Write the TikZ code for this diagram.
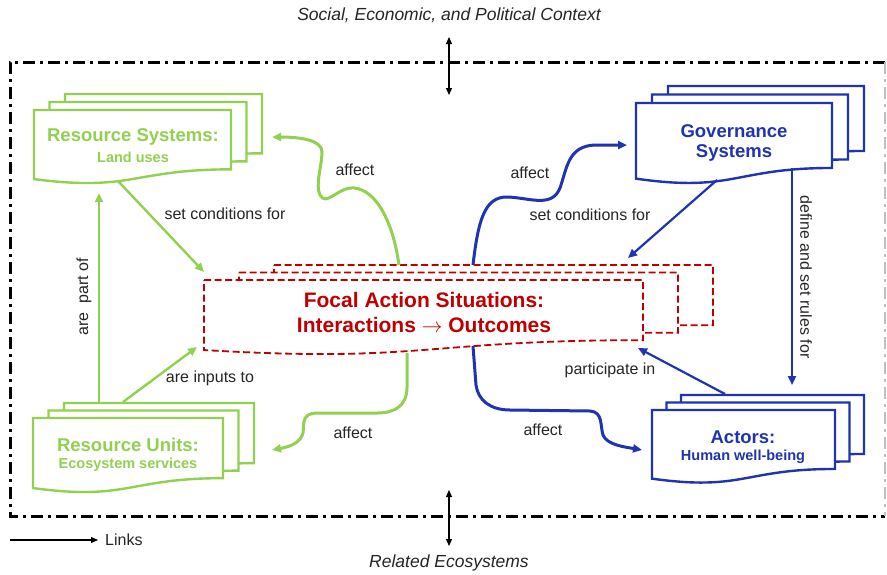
\documentclass[tikz,border=0pt]{standalone}
\usepackage{fontspec}
\setmainfont{Liberation Sans}
\usetikzlibrary{arrows.meta}
\definecolor{gr}{HTML}{92D050}
\definecolor{bl}{RGB}{32,52,178}
\definecolor{rd}{HTML}{C00000}
% doc shape: style, x, y, w, h
\newcommand\docshape[5]{%
  \draw[#1] (#2,#3) -- ({#2+#4},#3) -- ({#2+#4},{#3+0.802*#5})
    .. controls ({#2+0.5*#4},{#3+0.802*#5}) and ({#2+0.5*#4},{#3+1.107*#5})
    .. (#2,{#3+0.934*#5}) -- cycle;}
% stack: style, x, y, w, h, dx, dy
\newcommand\docstack[7]{%
  \docshape{#1}{#2+2*#6}{#3+2*#7}{#4}{#5}%
  \docshape{#1}{#2+#6}{#3+#7}{#4}{#5}%
  \docshape{#1}{#2}{#3}{#4}{#5}}
\begin{document}
\begin{tikzpicture}[x=1pt,y=-1pt,
  gbox/.style={draw=gr,line width=2.4pt,fill=white},
  bbox/.style={draw=bl,line width=2.4pt,fill=white},
  rbox/.style={draw=rd,line width=1.8pt,fill=white,dash pattern=on 7pt off 3.5pt},
  tip/.style={-{Triangle[length=9pt,width=8pt]}},
  garrow/.style={tip,draw=gr,line width=2.4pt},
  barrow/.style={tip,draw=bl,line width=2.2pt},
  gwave/.style={tip,draw=gr,line width=3pt},
  bwave/.style={tip,draw=bl,line width=3pt},
  lbl/.style={font=\fontsize{16}{18}\selectfont,text=black!85,inner sep=0pt},
  gtitle/.style={font=\fontsize{18.5}{20}\selectfont\bfseries,text=gr,inner sep=0pt},
  gsub/.style={font=\fontsize{14.5}{16}\selectfont\bfseries,text=gr,inner sep=0pt},
  btitle/.style={font=\fontsize{18.5}{20}\selectfont\bfseries,text=bl,inner sep=0pt},
  bsub/.style={font=\fontsize{14.5}{16}\selectfont\bfseries,text=bl,inner sep=0pt},
  rtitle/.style={font=\fontsize{21}{23}\selectfont\bfseries,text=rd,inner sep=0pt},
  ctx/.style={font=\fontsize{17.5}{19}\selectfont\itshape,text=black!85,inner sep=0pt},
  dbl/.style={{Triangle[length=7pt,width=6pt]}-{Triangle[length=7pt,width=6pt]},line width=1.2pt}
]
\useasboundingbox[fill=white] (0,0) rectangle (887,574);

% frame
\draw[line width=3pt,dash pattern=on 12pt off 5pt on 3pt off 5pt]
  (885,62) -- (10,62) -- (10,516) -- (885,516);
\draw[black!25,line width=1.5pt,dash pattern=on 12pt off 5pt on 3pt off 5pt] (885,62) -- (885,516);

% context
\node[ctx] (ctxT) at (449,15) {Social, Economic, and Political Context};
\node[ctx] (ctxB) at (449,563) {Related Ecosystems};
\coordinate (tA) at (449,37);
\coordinate (tB) at (449,95);
\coordinate (bA) at (449,490);
\coordinate (bB) at (449,546);
\draw[dbl] (tA) -- (tB);
\draw[dbl] (bA) -- (bB);

% legend
\coordinate (lgA) at (10,540);
\coordinate (lgB) at (98,540);
\draw[-{Triangle[length=7pt,width=6pt]},line width=1.2pt] (lgA) -- (lgB);
\node[lbl,anchor=west] (links) at (105,540) {Links};

% stacks
\docstack{gbox}{34}{110}{197}{74}{15.5}{-8}
\docstack{gbox}{33}{418}{190}{75}{15.5}{-7.5}
\docstack{bbox}{636}{103}{196}{81}{16}{-8.5}
\docstack{bbox}{652}{410}{183}{73.5}{14.5}{-7.5}
\docstack{rbox}{204}{280}{439}{75}{35}{-7.5}

% box texts
\node[gtitle] (rs) at (133,137) {Resource Systems:};
\node[gsub] (rs2) at (133,157) {Land uses};
\node[gtitle] (ru) at (128,445) {Resource Units:};
\node[gsub] (ru2) at (128,465) {Ecosystem services};
\node[btitle] (gs) at (734,131) {Governance};
\node[btitle] (gs2) at (734,153) {Systems};
\node[btitle] (ac) at (743,437) {Actors:};
\node[bsub] (ac2) at (743,457) {Human well-being};
\node[rtitle] (fas) at (424,300) {Focal Action Situations:};
\node[rtitle] (fas2) at (424,325) {Interactions {\normalfont$\rightarrow$} Outcomes};

% anchor coordinates
\coordinate (rsB) at (118,181);
\coordinate (rsR) at (272,137);
\coordinate (ruT1) at (99,402);
\coordinate (ruT2) at (123,402);
\coordinate (ruR) at (272,450);
\coordinate (rsBot) at (99,193);
\coordinate (fasTL) at (204,272);
\coordinate (fasL) at (197,347);
\coordinate (fasTg) at (399,265);
\coordinate (fasTb) at (473,265);
\coordinate (fasBg) at (407,353);
\coordinate (fasBb) at (473,346);
\coordinate (fasR) at (628,258);
\coordinate (fasBR) at (638,348);
\coordinate (gsL) at (627,145);
\coordinate (gsB) at (717,180);
\coordinate (gsB2) at (792,168);
\coordinate (acT) at (792,385);
\coordinate (acT2) at (725,394);
\coordinate (acL) at (642,450);

% green connectors
\draw[garrow] (rsB) -- (fasTL);
\node[lbl] (l1) at (225,214) {set conditions for};
\draw[garrow] (ruT1) -- (rsBot);
\node[lbl,rotate=90] (l2) at (84,297) {are~~part of};
\draw[garrow] (ruT2) -- (fasL);
\node[lbl] (l3) at (210,378) {are inputs to};
\draw[gwave] (fasTg) .. controls (392,215) and (372,186) .. (350,188)
  .. controls (336,190) and (326,206) .. (320,195)
  .. controls (315,185) and (322,165) .. (322,152)
  .. controls (322,140) and (300,137) .. (rsR);
\node[lbl] (l4) at (355,170) {affect};
\draw[gwave] (fasBg) -- (407,388) .. controls (407,405) and (395,413) .. (378,413)
  -- (318,413) .. controls (298,413) and (306,428) .. (302,436)
  .. controls (298,444) and (288,447) .. (ruR);
\node[lbl] (l5) at (353,433) {affect};

% blue connectors
\draw[bwave] (fasTb) .. controls (478,222) and (484,196) .. (508,197)
  .. controls (530,198) and (552,208) .. (560,188)
  .. controls (567,168) and (568,146) .. (595,145) -- (gsL);
\node[lbl] (l6) at (530,173) {affect};
\draw[bwave] (fasBb) -- (476,385) .. controls (478,400) and (490,410) .. (510,410)
  -- (590,411) .. controls (603,412) and (600,425) .. (603,435)
  .. controls (607,445) and (625,447) .. (acL);
\node[lbl] (l7) at (543,430) {affect};
\draw[barrow] (gsB) -- (fasR);
\node[lbl] (l8) at (590,215) {set conditions for};
\draw[barrow] (gsB2) -- (acT);
\node[lbl,rotate=-90] (l9) at (806,277) {define and set rules for};
\draw[barrow] (acT2) -- (fasBR);
\node[lbl] (l10) at (610,370) {participate in};
\end{tikzpicture}
\end{document}
